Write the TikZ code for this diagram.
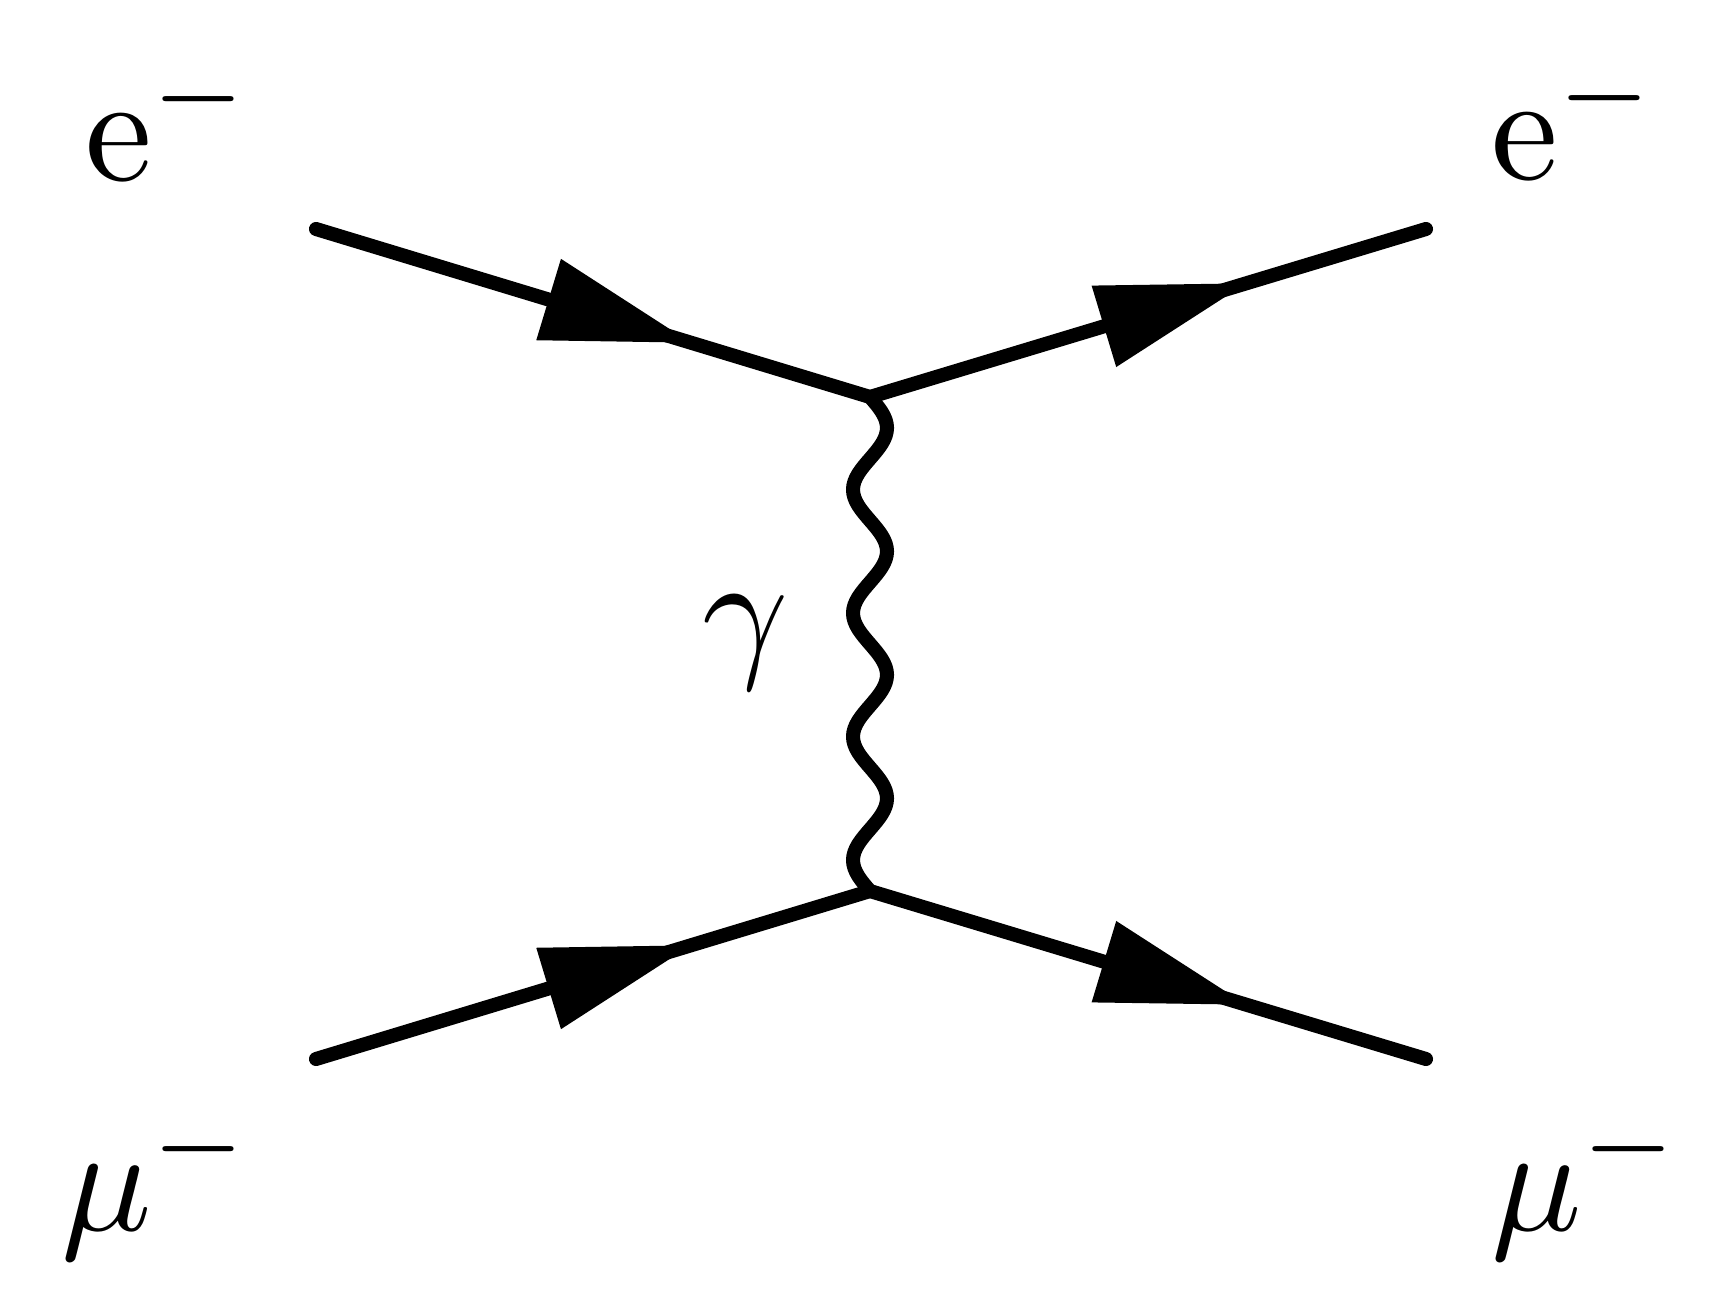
\documentclass[tikz,border=0pt]{standalone}
\usepackage{tikz}
\usetikzlibrary{arrows.meta, decorations.markings}

\begin{document}
\begin{tikzpicture}[
  fermion/.style={line width=4pt, line cap=round, postaction={decorate},
    decoration={markings, mark=at position 0.679 with {\arrow{Triangle[length=1.5cm, width=0.81cm]}}}},
  photon/.style={line width=4pt, line join=round, rotate=-90},
  plabel/.style={inner sep=0pt, scale=4.28, anchor=base west}
]
  \useasboundingbox (0,0) rectangle (17.2,13.15);
  % vertices and external points
  \coordinate (i1) at (3.16, 10.86);
  \coordinate (i2) at (3.16, 2.56);
  \coordinate (v1) at (8.70, 9.18);
  \coordinate (v2) at (8.70, 4.24);
  \coordinate (f1) at (14.26, 10.86);
  \coordinate (f2) at (14.26, 2.56);
  % lines
  \draw[fermion] (i1) -- (v1);
  \draw[fermion] (v1) -- (f1);
  \draw[fermion] (i2) -- (v2);
  \draw[fermion] (v2) -- (f2);
  % photon, four full periods (drawn sideways, then turned down)
  \draw[photon] (v1) \foreach \k in {1,...,4} {
      sin ++(0.30875,0.17) cos ++(0.30875,-0.17)
      sin ++(0.30875,-0.17) cos ++(0.30875,0.17)} -- (v2);
  % labels
  \node[plabel] (ein) at (0.82, 11.35) {$\mathrm{e}^-$};
  \node[plabel] (eout) at (14.88, 11.36) {$\mathrm{e}^-$};
  \node[plabel] (muin) at (0.58, 0.85) {$\mu^-$};
  \node[plabel] (muout) at (14.88, 0.85) {$\mu^-$};
  \node[plabel] (gam) at (6.99, 6.55) {$\gamma$};
\end{tikzpicture}
\end{document}
